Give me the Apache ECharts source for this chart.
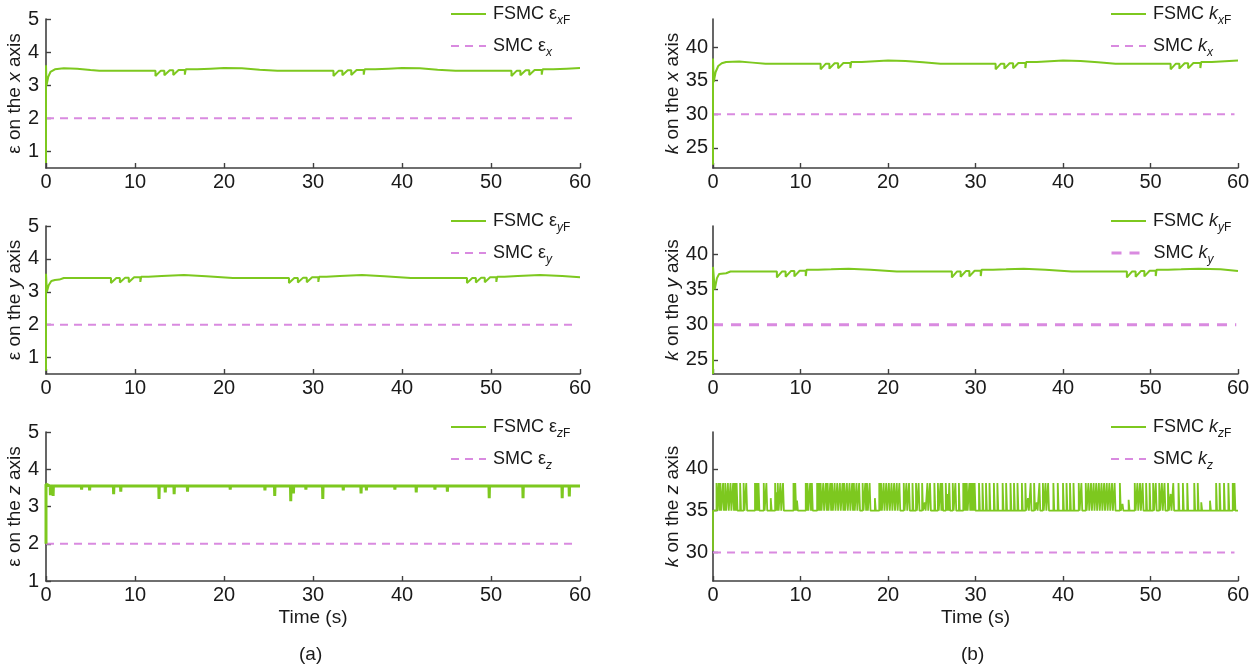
<!DOCTYPE html>
<html>
<head>
<meta charset="utf-8">
<script src="https://cdn.jsdelivr.net/npm/echarts@6/dist/echarts.min.js"></script>
<style>
  html, body { margin: 0; background: #fff; }
  #chart { width: 1258px; height: 668px; }
</style>
</head>
<body>
<div id="chart"></div>
<script>
// values (time in s)
const epsXF = [[0, 0.65], [0, 3.6], [0.06, 3.0], [0.25, 3.25], [0.5, 3.4], [1, 3.48], [2, 3.51], [3.5, 3.5], [5, 3.46], [6, 3.44],
  [12.3, 3.44], [12.3, 3.28], [12.9, 3.44], [13.3, 3.44], [13.3, 3.3], [13.9, 3.45], [14.3, 3.45], [14.3, 3.31], [14.9, 3.46], [15.6, 3.46], [15.6, 3.32], [15.7, 3.48],
  [17, 3.48], [18.5, 3.5], [20, 3.52], [22, 3.51], [24, 3.47], [26, 3.44],
  [32.3, 3.44], [32.3, 3.28], [32.9, 3.44], [33.3, 3.44], [33.3, 3.3], [33.9, 3.45], [34.3, 3.45], [34.3, 3.31], [34.9, 3.46], [35.7, 3.46], [35.7, 3.32], [35.8, 3.48],
  [37, 3.48], [38.5, 3.5], [40, 3.52], [42, 3.51], [44, 3.47], [46, 3.44],
  [52.3, 3.44], [52.3, 3.28], [52.9, 3.44], [53.3, 3.44], [53.3, 3.3], [53.9, 3.45], [54.3, 3.45], [54.3, 3.31], [54.9, 3.46], [55.7, 3.46], [55.7, 3.32], [55.8, 3.48],
  [57, 3.48], [58.5, 3.5], [60, 3.52]];
const epsX = [[0, 2], [59.6, 2]];

const epsYF = [[0, 0.6], [0, 3.55], [0.1, 3.0], [0.3, 3.2], [0.6, 3.33], [1, 3.36], [1.5, 3.37], [2, 3.42],
  [7.3, 3.42], [7.3, 3.27], [7.9, 3.42], [8.3, 3.42], [8.3, 3.28], [8.9, 3.43], [9.3, 3.43], [9.3, 3.29], [9.9, 3.44], [10.6, 3.44], [10.6, 3.3], [10.7, 3.46],
  [11.5, 3.46], [13, 3.48], [15.5, 3.51], [18, 3.47], [21, 3.42],
  [27.3, 3.42], [27.3, 3.27], [27.9, 3.42], [28.3, 3.42], [28.3, 3.28], [28.9, 3.43], [29.3, 3.43], [29.3, 3.29], [29.9, 3.44], [30.6, 3.44], [30.6, 3.3], [30.7, 3.46],
  [31.5, 3.46], [33, 3.48], [35.5, 3.51], [38, 3.47], [41, 3.42],
  [47.3, 3.42], [47.3, 3.27], [47.9, 3.42], [48.3, 3.42], [48.3, 3.28], [48.9, 3.43], [49.3, 3.43], [49.3, 3.29], [49.9, 3.44], [50.6, 3.44], [50.6, 3.3], [50.7, 3.46],
  [51.5, 3.46], [53, 3.48], [55.5, 3.51], [58, 3.48], [60, 3.44]];
const epsY = [[0, 2], [59.6, 2]];

const epsZStart = [[0, 2], [0, 3.6], [0.1, 3.55]];
const epsZBase = 3.55;
const epsZSpikes = [[0.5, 3.3], [0.8, 3.28], [4.0, 3.45], [4.9, 3.43], [7.6, 3.33], [8.4, 3.4], [12.7, 3.2], [13.4, 3.38], [14.4, 3.33],
  [15.9, 3.4], [20.7, 3.45], [24.6, 3.43], [25.7, 3.28], [27.5, 3.14], [27.8, 3.35], [29.2, 3.45], [31.1, 3.2], [33.4, 3.43],
  [35.4, 3.35], [36.0, 3.43], [39.2, 3.45], [41.6, 3.38], [43.7, 3.45], [45.1, 3.4], [49.8, 3.22], [50.9, 3.5], [53.6, 3.22],
  [58.0, 3.22], [58.8, 3.27]];
const epsZ = [[0, 2], [59.6, 2]];

const kXF = [[0, 22.5], [0, 38.3], [0.08, 34.8], [0.3, 36.3], [0.6, 37.2], [1, 37.6], [1.5, 37.8], [3, 37.85], [4.5, 37.7], [6, 37.55],
  [12.3, 37.55], [12.3, 36.7], [12.9, 37.55], [13.3, 37.55], [13.3, 36.8], [13.9, 37.6], [14.3, 37.6], [14.3, 36.85], [14.9, 37.65], [15.7, 37.65], [15.7, 36.9], [15.8, 37.8],
  [17, 37.8], [18.5, 37.9], [20, 38], [22, 37.95], [24, 37.75], [26, 37.55],
  [32.3, 37.55], [32.3, 36.7], [32.9, 37.55], [33.3, 37.55], [33.3, 36.8], [33.9, 37.6], [34.3, 37.6], [34.3, 36.85], [34.9, 37.65], [35.7, 37.65], [35.7, 36.9], [35.8, 37.8],
  [37, 37.8], [38.5, 37.9], [40, 38], [42, 37.95], [44, 37.75], [46, 37.55],
  [52.3, 37.55], [52.3, 36.7], [52.9, 37.55], [53.3, 37.55], [53.3, 36.8], [53.9, 37.6], [54.3, 37.6], [54.3, 36.85], [54.9, 37.65], [55.7, 37.65], [55.7, 36.9], [55.8, 37.8],
  [57, 37.8], [58.5, 37.9], [60, 38]];
const kX = [[0, 30], [59.6, 30]];

const kYF = [[0, 23], [0, 38.2], [0.2, 35], [0.45, 36.6], [0.7, 37.2], [1.5, 37.3], [2, 37.55],
  [7.3, 37.55], [7.3, 36.7], [7.9, 37.55], [8.3, 37.55], [8.3, 36.8], [8.9, 37.6], [9.3, 37.6], [9.3, 36.85], [9.9, 37.65], [10.6, 37.65], [10.6, 36.9], [10.7, 37.8],
  [12, 37.8], [13.5, 37.85], [15.5, 37.95], [18, 37.8], [21, 37.55],
  [27.3, 37.55], [27.3, 36.7], [27.9, 37.55], [28.3, 37.55], [28.3, 36.8], [28.9, 37.6], [29.3, 37.6], [29.3, 36.85], [29.9, 37.65], [30.6, 37.65], [30.6, 36.9], [30.7, 37.8],
  [32, 37.8], [33.5, 37.85], [35.5, 37.95], [38, 37.8], [41, 37.55],
  [47.3, 37.55], [47.3, 36.7], [47.9, 37.55], [48.3, 37.55], [48.3, 36.8], [48.9, 37.6], [49.3, 37.6], [49.3, 36.85], [49.9, 37.65], [50.6, 37.65], [50.6, 36.9], [50.7, 37.8],
  [52, 37.8], [53.5, 37.85], [55.5, 37.95], [58, 37.85], [60, 37.6]];
const kY = [[0, 30], [59.8, 30]];

const kZStart = [[0, 30.2], [0, 35]];
const kZBase = 35;
const kZTop = 38.3;
const kZPulseTimes = [0.4, 0.65, 0.85, 1.15, 1.4, 1.7, 2.0, 2.3, 2.5, 2.7, 3.1, 3.5, 3.8, 4.8, 5.0, 5.2, 5.8, 6.1, 7.1, 7.4, 7.7, 8.0,
  9.2, 9.4, 10.6, 10.8, 11.1, 11.3, 11.9, 12.1, 12.3, 12.6, 12.9, 13.1, 13.4, 13.6, 13.9, 14.2, 14.5, 14.8, 15.0, 15.3, 15.6, 15.9,
  16.1, 16.4, 16.7, 17.1, 17.4, 17.6, 17.9, 19.0, 19.2, 19.5, 19.8, 20.1, 20.4, 20.7, 21.0, 21.3, 21.8, 22.1, 22.4, 22.8, 23.2, 23.5,
  23.9, 24.5, 24.8, 25.3, 25.7, 26.0, 26.2, 26.6, 27.0, 27.4, 27.7, 28.1, 28.6, 28.8, 29.0, 29.3, 29.5, 29.7, 29.9, 30.4, 30.8, 31.2,
  31.6, 32.1, 32.5, 33.1, 33.5, 34.0, 34.4, 34.8, 35.3, 35.7, 36.3, 36.7, 37.3, 37.7, 38.0, 38.3, 38.9, 39.4, 40.0, 40.4, 40.8, 41.2,
  41.8, 42.1, 42.6, 42.9, 43.2, 43.5, 43.8, 44.1, 44.4, 44.7, 45.0, 45.3, 45.6, 45.9, 46.5, 48.2, 48.5, 48.8, 49.1, 49.5, 49.9, 50.3,
  50.6, 51.0, 51.3, 51.6, 52.0, 52.6, 53.2, 53.7, 54.2, 55.0, 55.4, 57.5, 57.9, 58.4, 58.9, 59.4, 59.6];
const kZPartialPulses = [[1.3, 36], [6.6, 36.5], [7.3, 37.2], [9.6, 36.2], [18.5, 36.5], [24.2, 36], [26.8, 37], [36.0, 36.5],
  [37.0, 36], [46.8, 35.8], [47.5, 36.3], [52.3, 37], [55.8, 36], [56.8, 36.2]];
const kZ = [[0, 30], [59.6, 30]];

const epsTicks = [1, 2, 3, 4, 5];
const kTicks = [25, 30, 35, 40];
const kZTicks = [30, 35, 40];

// build step/spike tables from the read values
const epsZF = epsZStart.slice();
epsZSpikes.forEach(([t, v]) => { epsZF.push([t - 0.03, epsZBase], [t, v], [t + 0.03, epsZBase]); });
epsZF.push([60, epsZBase]);

const kZF = kZStart.slice();
const pulses = kZPulseTimes.map((t) => [t, kZTop]).concat(kZPartialPulses).sort((a, b) => a[0] - b[0]);
pulses.forEach(([t, top]) => { kZF.push([t, kZBase], [t, top], [t + 0.1, top], [t + 0.1, kZBase]); });
kZF.push([60, kZBase]);

const FONT = 'Liberation Sans, Arial, sans-serif';
const GREEN = '#7dc81f';
const PINK = '#d98ae0';
const AXIS = '#404040';
const TXT = '#1a1a1a';

const legendRich = {
  t: { fontSize: 18, fontFamily: FONT, color: TXT, lineHeight: 26, verticalAlign: 'middle' },
  i: { fontSize: 18, fontFamily: FONT, color: TXT, fontStyle: 'italic', lineHeight: 26, verticalAlign: 'middle' },
  si: { fontSize: 12, fontFamily: FONT, color: TXT, fontStyle: 'italic', lineHeight: 26, verticalAlign: 'bottom' },
  s: { fontSize: 12, fontFamily: FONT, color: TXT, lineHeight: 26, verticalAlign: 'bottom' },
};
const legendLabels = {
  exF: '{t|FSMC }{t|ε}{si|x}{s|F}', ex: '{t|SMC }{t|ε}{si|x}',
  eyF: '{t|FSMC }{t|ε}{si|y}{s|F}', ey: '{t|SMC }{t|ε}{si|y}',
  ezF: '{t|FSMC }{t|ε}{si|z}{s|F}', ez: '{t|SMC }{t|ε}{si|z}',
  kxF: '{t|FSMC }{i|k}{si|x}{s|F}', kx: '{t|SMC }{i|k}{si|x}',
  kyF: '{t|FSMC }{i|k}{si|y}{s|F}', ky: '{t|SMC }{i|k}{si|y}',
  kzF: '{t|FSMC }{i|k}{si|z}{s|F}', kz: '{t|SMC }{i|k}{si|z}',
};

const panels = [
  { grid: [46, 19, 534, 149], min: 0.5, max: 5, ticks: epsTicks, sym: 'ε', ax: 'x', f: 'exF', s: 'ex', fd: epsXF, sd: epsX, lx: 450, ly: 14 },
  { grid: [713, 19, 525, 149], min: 22, max: 44.2, ticks: kTicks, sym: 'k', ax: 'x', f: 'kxF', s: 'kx', fd: kXF, sd: kX, lx: 1110, ly: 14 },
  { grid: [46, 226, 534, 148], min: 0.5, max: 5, ticks: epsTicks, sym: 'ε', ax: 'y', f: 'eyF', s: 'ey', fd: epsYF, sd: epsY, lx: 450, ly: 221 },
  { grid: [713, 226, 525, 148], min: 23, max: 44, ticks: kTicks, sym: 'k', ax: 'y', f: 'kyF', s: 'ky', fd: kYF, sd: kY, lx: 1110, ly: 221, thick: true },
  { grid: [46, 432, 534, 149], min: 1, max: 5, ticks: epsTicks, sym: 'ε', ax: 'z', f: 'ezF', s: 'ez', fd: epsZF, sd: epsZ, lx: 450, ly: 427, fw: 3, time: true },
  { grid: [713, 432, 525, 149], min: 26.6, max: 44.4, ticks: kZTicks, sym: 'k', ax: 'z', f: 'kzF', s: 'kz', fd: kZF, sd: kZ, lx: 1110, ly: 427, fw: 1.8, time: true },
];

const grid = [], xAxis = [], yAxis = [], series = [], legend = [];
panels.forEach((p, idx) => {
  const isK = p.sym === 'k';
  grid.push({ left: p.grid[0], top: p.grid[1], width: p.grid[2], height: p.grid[3] });
  xAxis.push({
    type: 'value', gridIndex: idx, min: 0, max: 60, interval: 10,
    name: p.time ? 'Time (s)' : '', nameLocation: 'middle', nameGap: 27,
    nameTextStyle: { fontSize: 19, fontFamily: FONT, color: TXT },
    axisLine: { lineStyle: { color: AXIS, width: 1.6 } },
    axisTick: { inside: true, length: 5, lineStyle: { color: AXIS, width: 1.4 } },
    axisLabel: { fontSize: 20, fontFamily: FONT, color: TXT, margin: 4 },
    splitLine: { show: false },
  });
  yAxis.push({
    type: 'value', gridIndex: idx, min: p.min, max: p.max,
    name: (isK ? '{i|k}{n| on the }' : '{n|ε on the }') + '{i|' + p.ax + '}{n| axis}',
    nameLocation: 'middle', nameGap: isK ? 28 : 16,
    nameTextStyle: {
      rich: {
        n: { fontSize: 19, fontFamily: FONT, color: TXT },
        i: { fontSize: 19, fontFamily: FONT, color: TXT, fontStyle: 'italic' },
      },
    },
    axisLine: { show: true, lineStyle: { color: AXIS, width: 1.6 } },
    axisTick: { inside: true, length: 5, customValues: p.ticks, lineStyle: { color: AXIS, width: 1.4 } },
    axisLabel: { fontSize: 20, fontFamily: FONT, color: TXT, margin: isK ? 5 : 7, customValues: p.ticks },
    splitLine: { show: false },
  });
  series.push({
    name: p.f, type: 'line', xAxisIndex: idx, yAxisIndex: idx, data: p.fd,
    symbol: 'none', color: GREEN, lineStyle: { color: GREEN, width: p.fw || 2 }, z: 3,
  });
  series.push({
    name: p.s, type: 'line', xAxisIndex: idx, yAxisIndex: idx, data: p.sd,
    symbol: 'none', color: PINK, z: 2,
    lineStyle: { color: PINK, width: p.thick ? 3 : 2, type: p.thick ? [10, 8] : [8, 6] },
  });
  [[p.f, p.ly], [p.s, p.ly + 32]].forEach(([name, cy]) => {
    legend.push({
      data: [name], left: p.lx, top: cy - 9, padding: 0, orient: 'vertical',
      itemWidth: 35, itemHeight: 14, selectedMode: false,
      itemStyle: { opacity: 0 },
      lineStyle: { width: name === 'ky' ? 3 : 2 },
      formatter: (n) => legendLabels[n],
      textStyle: { padding: [0, 0, 0, 2], rich: legendRich },
    });
  });
});

const chart = echarts.init(document.getElementById('chart'));
chart.setOption({
  animation: false,
  backgroundColor: '#fff',
  grid, xAxis, yAxis, series, legend,
  graphic: [
    { type: 'text', left: 299, top: 645, style: { text: '(a)', fontSize: 19, fontFamily: FONT, fill: TXT } },
    { type: 'text', left: 961, top: 645, style: { text: '(b)', fontSize: 19, fontFamily: FONT, fill: TXT } },
  ],
});
</script>
</body>
</html>
